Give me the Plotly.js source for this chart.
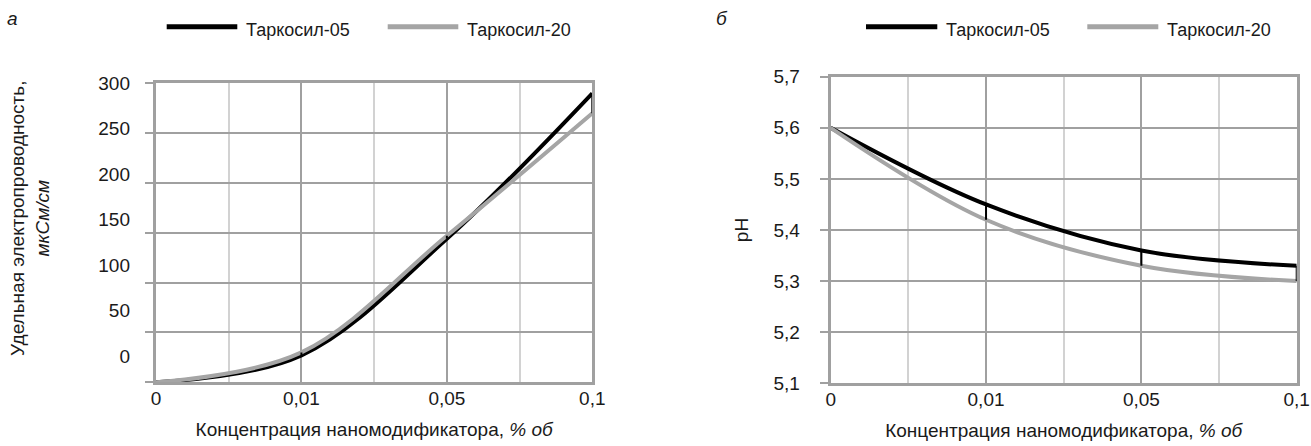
<!DOCTYPE html>
<html>
<head>
<meta charset="utf-8">
<script src="https://cdn.plot.ly/plotly-3.0.1.min.js"></script>
<style>
html,body{margin:0;padding:0;background:#fff;}
#chart{width:1311px;height:446px;}
</style>
</head>
<body>
<div id="chart"></div>
<script>
// ---- data ----
const categories = ['0', '0,01', '0,05', '0,1'];
const seriesNames = ['Таркосил-05', 'Таркосил-20'];
const conductivity05 = [0, 27, 144, 290];
const conductivity20 = [0, 30, 147, 270];
const ph05 = [5.6, 5.45, 5.36, 5.33];
const ph20 = [5.6, 5.42, 5.33, 5.30];
const condGridVals = [0, 50, 100, 150, 200, 250, 300];
const condTickLabels = ['300', '250', '200', '150', '100', '50', '0'];
const condTickLabelPos = [300, 254.4, 208.8, 163.2, 117.6, 72, 26.4];
const phTickVals = [5.1, 5.2, 5.3, 5.4, 5.5, 5.6, 5.7];
const phTickLabels = ['5,1', '5,2', '5,3', '5,4', '5,5', '5,6', '5,7'];

// ---- styles ----
const W = 1311, H = 446;
const FONT = 'Liberation Sans, Arial, Helvetica, sans-serif';
const GRID = '#a0a0a0', GRID_LIGHT = '#d2d2d2', TXT = '#1a1a1a';
const BLACK = '#000000', GRAY = '#a5a5a5';
const SERIES_COLORS = [BLACK, GRAY];
const px = v => v / W, py = v => 1 - v / H;

const xIdx = categories.map((_, i) => i);
const xMid = xIdx.slice(1).map(i => i - 0.5);
const up = (a, b) => a.map((v, i) => Math.max(b[i] - v, 0));
const down = (a, b) => a.map((v, i) => Math.max(v - b[i], 0));

function lineTrace(y, name, color, xa, ya) {
  return {
    x: xIdx, y: y, name: name, type: 'scatter', mode: 'lines',
    line: {color: color, width: 4, shape: 'spline', smoothing: 1},
    xaxis: xa, yaxis: ya, showlegend: false, hoverinfo: 'skip'
  };
}
function barTrace(a, b, xa, ya) {
  return {
    x: xIdx, y: a, type: 'scatter', mode: 'lines', line: {width: 0, color: BLACK},
    showlegend: false, hoverinfo: 'skip', xaxis: xa, yaxis: ya,
    error_y: {type: 'data', symmetric: false, array: up(a, b), arrayminus: down(a, b),
              width: 0, thickness: 2, color: BLACK}
  };
}

const traces = [
  lineTrace(conductivity05, seriesNames[0], BLACK, 'x', 'y'),
  lineTrace(conductivity20, seriesNames[1], GRAY, 'x', 'y'),
  barTrace(conductivity05, conductivity20, 'x', 'y3'),
  lineTrace(ph05, seriesNames[0], BLACK, 'x2', 'y2'),
  lineTrace(ph20, seriesNames[1], GRAY, 'x2', 'y2'),
  barTrace(ph05, ph20, 'x2', 'y2')
];

function xAxis(domain, anchor) {
  return {
    domain: domain, anchor: anchor, range: [0, 3], fixedrange: true,
    tickmode: 'array', tickvals: xIdx, ticktext: categories,
    showgrid: true, gridcolor: GRID, gridwidth: 2,
    minor: {tickmode: 'array', tickvals: xMid, showgrid: true, gridcolor: GRID_LIGHT, gridwidth: 2, ticks: ''},
    showline: true, linecolor: GRID, linewidth: 3, mirror: true,
    ticks: '', zeroline: false, ticklabelstandoff: -3,
    tickfont: {family: FONT, size: 19, color: TXT},
    title: {text: 'Концентрация наномодификатора, <i>% об</i>', standoff: 15,
            font: {family: FONT, size: 19, color: TXT}}
  };
}

// manual legend (long, thick line samples as in the reference)
const legendSpec = [
  {x0: 166.7, x1: 237.3, tx: 243.5},
  {x0: 387.7, x1: 458.3, tx: 464.5},
  {x0: 866.0, x1: 937.3, tx: 943.5},
  {x0: 1087.3, x1: 1158.3, tx: 1164.5}
];
const legendY = 26.7, legendTextY = 29.5;
const shapes = [], annotations = [];
legendSpec.forEach((s, i) => {
  const k = i % 2;
  shapes.push({type: 'line', xref: 'paper', yref: 'paper', x0: px(s.x0), x1: px(s.x1),
               y0: py(legendY), y1: py(legendY), line: {color: SERIES_COLORS[k], width: 5}});
  annotations.push({text: seriesNames[k], xref: 'paper', yref: 'paper', x: px(s.tx), y: py(legendTextY),
                    xanchor: 'left', yanchor: 'middle', showarrow: false,
                    font: {family: FONT, size: 18, color: TXT}});
});

annotations.push(
  {text: 'Удельная электропроводность,<br><i>мкСм/см</i>', textangle: -90,
   xref: 'paper', yref: 'paper', x: px(30), y: py(218), xanchor: 'center', yanchor: 'middle',
   showarrow: false, font: {family: FONT, size: 19, color: TXT}},
  {text: '<i>а</i>', xref: 'paper', yref: 'paper', x: px(13), y: py(18),
   xanchor: 'center', yanchor: 'middle', showarrow: false, font: {family: FONT, size: 19, color: TXT}},
  {text: '<i>б</i>', xref: 'paper', yref: 'paper', x: px(722), y: py(18),
   xanchor: 'center', yanchor: 'middle', showarrow: false, font: {family: FONT, size: 19, color: TXT}}
);

const layout = {
  width: W, height: H,
  margin: {l: 0, r: 0, t: 0, b: 0, autoexpand: false},
  paper_bgcolor: '#ffffff', plot_bgcolor: '#ffffff',
  font: {family: FONT, size: 19, color: TXT},
  showlegend: false,
  xaxis: xAxis([px(156), px(592.3)], 'y'),
  xaxis2: xAxis([px(830.7), px(1296.7)], 'y2'),
  yaxis: {
    domain: [py(382.3), py(83.3)], anchor: 'x', range: [0, 300], fixedrange: true,
    tickmode: 'array', tickvals: condGridVals, showticklabels: false,
    showgrid: true, gridcolor: GRID, gridwidth: 2,
    ticks: 'outside', ticklen: 8, tickwidth: 2, tickcolor: GRID,
    showline: true, linecolor: GRID, linewidth: 3, mirror: true, zeroline: false
  },
  yaxis3: {
    overlaying: 'y', anchor: 'x', side: 'left', range: [0, 300], fixedrange: true,
    tickmode: 'array', tickvals: condTickLabelPos, ticktext: condTickLabels,
    showgrid: false, showline: false, ticks: '', zeroline: false,
    ticklabelstandoff: 25, tickfont: {family: FONT, size: 19, color: TXT}
  },
  yaxis2: {
    domain: [py(383.3), py(76.7)], anchor: 'x2', range: [5.1, 5.7], fixedrange: true,
    tickmode: 'array', tickvals: phTickVals, ticktext: phTickLabels,
    showgrid: true, gridcolor: GRID, gridwidth: 2,
    ticks: 'outside', ticklen: 8, tickwidth: 2, tickcolor: GRID,
    showline: true, linecolor: GRID, linewidth: 3, mirror: true, zeroline: false,
    ticklabelstandoff: 16, tickfont: {family: FONT, size: 19, color: TXT},
    title: {text: 'pH', standoff: 20, font: {family: FONT, size: 19, color: TXT}}
  },
  shapes: shapes,
  annotations: annotations
};

Plotly.newPlot('chart', traces, layout, {staticPlot: true, displayModeBar: false});
</script>
</body>
</html>
